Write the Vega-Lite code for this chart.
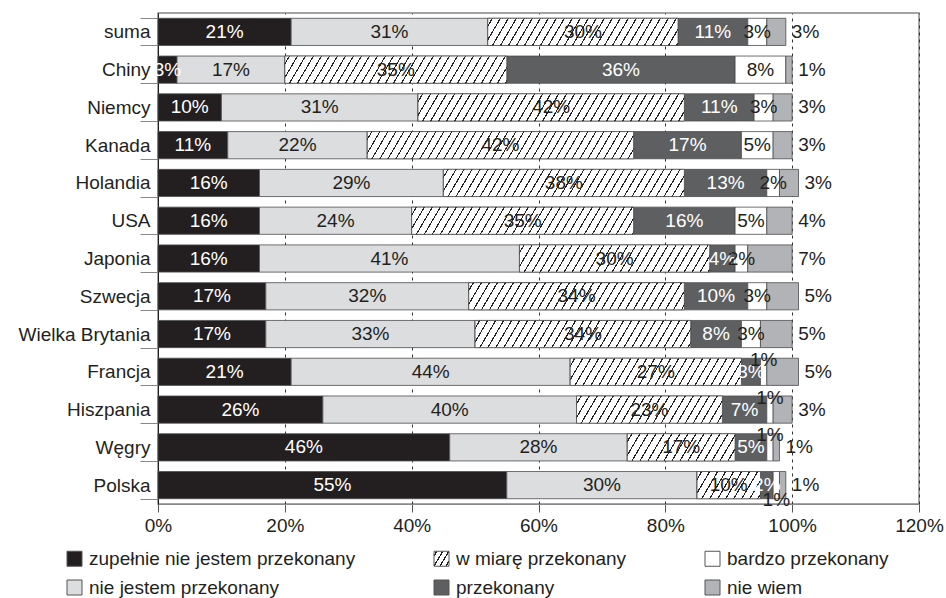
{
  "$schema": "https://vega.github.io/schema/vega-lite/v6.json",
  "width": 761,
  "height": 491,
  "autosize": "none",
  "padding": {"left": 158, "top": 13, "right": 27, "bottom": 94},
  "config": {
    "view": {"stroke": "#888", "strokeWidth": 1.5},
    "font": "Liberation Sans"
  },
  "params": [
    {"name": "lhatch", "value": [
      {"offset":0,"color":"#fff"},
      {"offset":0.09,"color":"#fff"},{"offset":0.09,"color":"#231f20"},{"offset":0.15,"color":"#231f20"},{"offset":0.15,"color":"#fff"},
      {"offset":0.34,"color":"#fff"},{"offset":0.34,"color":"#231f20"},{"offset":0.40,"color":"#231f20"},{"offset":0.40,"color":"#fff"},
      {"offset":0.59,"color":"#fff"},{"offset":0.59,"color":"#231f20"},{"offset":0.65,"color":"#231f20"},{"offset":0.65,"color":"#fff"},
      {"offset":0.84,"color":"#fff"},{"offset":0.84,"color":"#231f20"},{"offset":0.90,"color":"#231f20"},{"offset":0.90,"color":"#fff"},
      {"offset":1,"color":"#fff"}
    ]},
    {"name": "hatch", "value": [
      {"offset":0,"color":"#fff"},
      {"offset":0.0125,"color":"#fff"},{"offset":0.0125,"color":"#231f20"},{"offset":0.0165,"color":"#231f20"},{"offset":0.0165,"color":"#fff"},
      {"offset":0.0375,"color":"#fff"},{"offset":0.0375,"color":"#231f20"},{"offset":0.0415,"color":"#231f20"},{"offset":0.0415,"color":"#fff"},
      {"offset":0.0625,"color":"#fff"},{"offset":0.0625,"color":"#231f20"},{"offset":0.0665,"color":"#231f20"},{"offset":0.0665,"color":"#fff"},
      {"offset":0.0875,"color":"#fff"},{"offset":0.0875,"color":"#231f20"},{"offset":0.0915,"color":"#231f20"},{"offset":0.0915,"color":"#fff"},
      {"offset":0.1125,"color":"#fff"},{"offset":0.1125,"color":"#231f20"},{"offset":0.1165,"color":"#231f20"},{"offset":0.1165,"color":"#fff"},
      {"offset":0.1375,"color":"#fff"},{"offset":0.1375,"color":"#231f20"},{"offset":0.1415,"color":"#231f20"},{"offset":0.1415,"color":"#fff"},
      {"offset":0.1625,"color":"#fff"},{"offset":0.1625,"color":"#231f20"},{"offset":0.1665,"color":"#231f20"},{"offset":0.1665,"color":"#fff"},
      {"offset":0.1875,"color":"#fff"},{"offset":0.1875,"color":"#231f20"},{"offset":0.1915,"color":"#231f20"},{"offset":0.1915,"color":"#fff"},
      {"offset":0.2125,"color":"#fff"},{"offset":0.2125,"color":"#231f20"},{"offset":0.2165,"color":"#231f20"},{"offset":0.2165,"color":"#fff"},
      {"offset":0.2375,"color":"#fff"},{"offset":0.2375,"color":"#231f20"},{"offset":0.2415,"color":"#231f20"},{"offset":0.2415,"color":"#fff"},
      {"offset":0.2625,"color":"#fff"},{"offset":0.2625,"color":"#231f20"},{"offset":0.2665,"color":"#231f20"},{"offset":0.2665,"color":"#fff"},
      {"offset":0.2875,"color":"#fff"},{"offset":0.2875,"color":"#231f20"},{"offset":0.2915,"color":"#231f20"},{"offset":0.2915,"color":"#fff"},
      {"offset":0.3125,"color":"#fff"},{"offset":0.3125,"color":"#231f20"},{"offset":0.3165,"color":"#231f20"},{"offset":0.3165,"color":"#fff"},
      {"offset":0.3375,"color":"#fff"},{"offset":0.3375,"color":"#231f20"},{"offset":0.3415,"color":"#231f20"},{"offset":0.3415,"color":"#fff"},
      {"offset":0.3625,"color":"#fff"},{"offset":0.3625,"color":"#231f20"},{"offset":0.3665,"color":"#231f20"},{"offset":0.3665,"color":"#fff"},
      {"offset":0.3875,"color":"#fff"},{"offset":0.3875,"color":"#231f20"},{"offset":0.3915,"color":"#231f20"},{"offset":0.3915,"color":"#fff"},
      {"offset":0.4125,"color":"#fff"},{"offset":0.4125,"color":"#231f20"},{"offset":0.4165,"color":"#231f20"},{"offset":0.4165,"color":"#fff"},
      {"offset":0.4375,"color":"#fff"},{"offset":0.4375,"color":"#231f20"},{"offset":0.4415,"color":"#231f20"},{"offset":0.4415,"color":"#fff"},
      {"offset":0.4625,"color":"#fff"},{"offset":0.4625,"color":"#231f20"},{"offset":0.4665,"color":"#231f20"},{"offset":0.4665,"color":"#fff"},
      {"offset":0.4875,"color":"#fff"},{"offset":0.4875,"color":"#231f20"},{"offset":0.4915,"color":"#231f20"},{"offset":0.4915,"color":"#fff"},
      {"offset":0.5125,"color":"#fff"},{"offset":0.5125,"color":"#231f20"},{"offset":0.5165,"color":"#231f20"},{"offset":0.5165,"color":"#fff"},
      {"offset":0.5375,"color":"#fff"},{"offset":0.5375,"color":"#231f20"},{"offset":0.5415,"color":"#231f20"},{"offset":0.5415,"color":"#fff"},
      {"offset":0.5625,"color":"#fff"},{"offset":0.5625,"color":"#231f20"},{"offset":0.5665,"color":"#231f20"},{"offset":0.5665,"color":"#fff"},
      {"offset":0.5875,"color":"#fff"},{"offset":0.5875,"color":"#231f20"},{"offset":0.5915,"color":"#231f20"},{"offset":0.5915,"color":"#fff"},
      {"offset":0.6125,"color":"#fff"},{"offset":0.6125,"color":"#231f20"},{"offset":0.6165,"color":"#231f20"},{"offset":0.6165,"color":"#fff"},
      {"offset":0.6375,"color":"#fff"},{"offset":0.6375,"color":"#231f20"},{"offset":0.6415,"color":"#231f20"},{"offset":0.6415,"color":"#fff"},
      {"offset":0.6625,"color":"#fff"},{"offset":0.6625,"color":"#231f20"},{"offset":0.6665,"color":"#231f20"},{"offset":0.6665,"color":"#fff"},
      {"offset":0.6875,"color":"#fff"},{"offset":0.6875,"color":"#231f20"},{"offset":0.6915,"color":"#231f20"},{"offset":0.6915,"color":"#fff"},
      {"offset":0.7125,"color":"#fff"},{"offset":0.7125,"color":"#231f20"},{"offset":0.7165,"color":"#231f20"},{"offset":0.7165,"color":"#fff"},
      {"offset":0.7375,"color":"#fff"},{"offset":0.7375,"color":"#231f20"},{"offset":0.7415,"color":"#231f20"},{"offset":0.7415,"color":"#fff"},
      {"offset":0.7625,"color":"#fff"},{"offset":0.7625,"color":"#231f20"},{"offset":0.7665,"color":"#231f20"},{"offset":0.7665,"color":"#fff"},
      {"offset":0.7875,"color":"#fff"},{"offset":0.7875,"color":"#231f20"},{"offset":0.7915,"color":"#231f20"},{"offset":0.7915,"color":"#fff"},
      {"offset":0.8125,"color":"#fff"},{"offset":0.8125,"color":"#231f20"},{"offset":0.8165,"color":"#231f20"},{"offset":0.8165,"color":"#fff"},
      {"offset":0.8375,"color":"#fff"},{"offset":0.8375,"color":"#231f20"},{"offset":0.8415,"color":"#231f20"},{"offset":0.8415,"color":"#fff"},
      {"offset":0.8625,"color":"#fff"},{"offset":0.8625,"color":"#231f20"},{"offset":0.8665,"color":"#231f20"},{"offset":0.8665,"color":"#fff"},
      {"offset":0.8875,"color":"#fff"},{"offset":0.8875,"color":"#231f20"},{"offset":0.8915,"color":"#231f20"},{"offset":0.8915,"color":"#fff"},
      {"offset":0.9125,"color":"#fff"},{"offset":0.9125,"color":"#231f20"},{"offset":0.9165,"color":"#231f20"},{"offset":0.9165,"color":"#fff"},
      {"offset":0.9375,"color":"#fff"},{"offset":0.9375,"color":"#231f20"},{"offset":0.9415,"color":"#231f20"},{"offset":0.9415,"color":"#fff"},
      {"offset":0.9625,"color":"#fff"},{"offset":0.9625,"color":"#231f20"},{"offset":0.9665,"color":"#231f20"},{"offset":0.9665,"color":"#fff"},
      {"offset":0.9875,"color":"#fff"},{"offset":0.9875,"color":"#231f20"},{"offset":0.9915,"color":"#231f20"},{"offset":0.9915,"color":"#fff"},
      {"offset":1,"color":"#fff"}
    ]}
  ],
  "data": {"values": [
    {"country":"suma","answer":"zupełnie nie jestem przekonany","pct":21},
    {"country":"suma","answer":"nie jestem przekonany","pct":31},
    {"country":"suma","answer":"w miarę przekonany","pct":30},
    {"country":"suma","answer":"przekonany","pct":11},
    {"country":"suma","answer":"bardzo przekonany","pct":3},
    {"country":"suma","answer":"nie wiem","pct":3},
    {"country":"Chiny","answer":"zupełnie nie jestem przekonany","pct":3},
    {"country":"Chiny","answer":"nie jestem przekonany","pct":17},
    {"country":"Chiny","answer":"w miarę przekonany","pct":35},
    {"country":"Chiny","answer":"przekonany","pct":36},
    {"country":"Chiny","answer":"bardzo przekonany","pct":8},
    {"country":"Chiny","answer":"nie wiem","pct":1},
    {"country":"Niemcy","answer":"zupełnie nie jestem przekonany","pct":10},
    {"country":"Niemcy","answer":"nie jestem przekonany","pct":31},
    {"country":"Niemcy","answer":"w miarę przekonany","pct":42},
    {"country":"Niemcy","answer":"przekonany","pct":11},
    {"country":"Niemcy","answer":"bardzo przekonany","pct":3},
    {"country":"Niemcy","answer":"nie wiem","pct":3},
    {"country":"Kanada","answer":"zupełnie nie jestem przekonany","pct":11},
    {"country":"Kanada","answer":"nie jestem przekonany","pct":22},
    {"country":"Kanada","answer":"w miarę przekonany","pct":42},
    {"country":"Kanada","answer":"przekonany","pct":17},
    {"country":"Kanada","answer":"bardzo przekonany","pct":5},
    {"country":"Kanada","answer":"nie wiem","pct":3},
    {"country":"Holandia","answer":"zupełnie nie jestem przekonany","pct":16},
    {"country":"Holandia","answer":"nie jestem przekonany","pct":29},
    {"country":"Holandia","answer":"w miarę przekonany","pct":38},
    {"country":"Holandia","answer":"przekonany","pct":13},
    {"country":"Holandia","answer":"bardzo przekonany","pct":2},
    {"country":"Holandia","answer":"nie wiem","pct":3},
    {"country":"USA","answer":"zupełnie nie jestem przekonany","pct":16},
    {"country":"USA","answer":"nie jestem przekonany","pct":24},
    {"country":"USA","answer":"w miarę przekonany","pct":35},
    {"country":"USA","answer":"przekonany","pct":16},
    {"country":"USA","answer":"bardzo przekonany","pct":5},
    {"country":"USA","answer":"nie wiem","pct":4},
    {"country":"Japonia","answer":"zupełnie nie jestem przekonany","pct":16},
    {"country":"Japonia","answer":"nie jestem przekonany","pct":41},
    {"country":"Japonia","answer":"w miarę przekonany","pct":30},
    {"country":"Japonia","answer":"przekonany","pct":4},
    {"country":"Japonia","answer":"bardzo przekonany","pct":2},
    {"country":"Japonia","answer":"nie wiem","pct":7},
    {"country":"Szwecja","answer":"zupełnie nie jestem przekonany","pct":17},
    {"country":"Szwecja","answer":"nie jestem przekonany","pct":32},
    {"country":"Szwecja","answer":"w miarę przekonany","pct":34},
    {"country":"Szwecja","answer":"przekonany","pct":10},
    {"country":"Szwecja","answer":"bardzo przekonany","pct":3},
    {"country":"Szwecja","answer":"nie wiem","pct":5},
    {"country":"Wielka Brytania","answer":"zupełnie nie jestem przekonany","pct":17},
    {"country":"Wielka Brytania","answer":"nie jestem przekonany","pct":33},
    {"country":"Wielka Brytania","answer":"w miarę przekonany","pct":34},
    {"country":"Wielka Brytania","answer":"przekonany","pct":8},
    {"country":"Wielka Brytania","answer":"bardzo przekonany","pct":3},
    {"country":"Wielka Brytania","answer":"nie wiem","pct":5},
    {"country":"Francja","answer":"zupełnie nie jestem przekonany","pct":21},
    {"country":"Francja","answer":"nie jestem przekonany","pct":44},
    {"country":"Francja","answer":"w miarę przekonany","pct":27},
    {"country":"Francja","answer":"przekonany","pct":3},
    {"country":"Francja","answer":"bardzo przekonany","pct":1},
    {"country":"Francja","answer":"nie wiem","pct":5},
    {"country":"Hiszpania","answer":"zupełnie nie jestem przekonany","pct":26},
    {"country":"Hiszpania","answer":"nie jestem przekonany","pct":40},
    {"country":"Hiszpania","answer":"w miarę przekonany","pct":23},
    {"country":"Hiszpania","answer":"przekonany","pct":7},
    {"country":"Hiszpania","answer":"bardzo przekonany","pct":1},
    {"country":"Hiszpania","answer":"nie wiem","pct":3},
    {"country":"Węgry","answer":"zupełnie nie jestem przekonany","pct":46},
    {"country":"Węgry","answer":"nie jestem przekonany","pct":28},
    {"country":"Węgry","answer":"w miarę przekonany","pct":17},
    {"country":"Węgry","answer":"przekonany","pct":5},
    {"country":"Węgry","answer":"bardzo przekonany","pct":1},
    {"country":"Węgry","answer":"nie wiem","pct":1},
    {"country":"Polska","answer":"zupełnie nie jestem przekonany","pct":55},
    {"country":"Polska","answer":"nie jestem przekonany","pct":30},
    {"country":"Polska","answer":"w miarę przekonany","pct":10},
    {"country":"Polska","answer":"przekonany","pct":2},
    {"country":"Polska","answer":"bardzo przekonany","pct":1},
    {"country":"Polska","answer":"nie wiem","pct":1}
  ]},
  "transform": [
    {"calculate": "indexof(['zupełnie nie jestem przekonany','nie jestem przekonany','w miarę przekonany','przekonany','bardzo przekonany','nie wiem'], datum.answer)", "as": "k"},
    {"stack": "pct", "groupby": ["country"], "sort": [{"field": "k", "order": "ascending"}], "as": ["v0", "v1"]},
    {"calculate": "(datum.v0 + datum.v1) / 2", "as": "mid"},
    {"calculate": "datum.pct + '%'", "as": "lbl"}
  ],
  "encoding": {
    "y": {
      "field": "country", "type": "nominal",
      "sort": ["suma","Chiny","Niemcy","Kanada","Holandia","USA","Japonia","Szwecja","Wielka Brytania","Francja","Hiszpania","Węgry","Polska"],
      "scale": {"paddingInner": 0.28, "paddingOuter": 0.14},
      "axis": {
        "title": null, "domainColor": "#231f20", "domainWidth": 1,
        "tickColor": "#888", "tickSize": 18, "tickBand": "extent", "tickWidth": 1,
        "labelPadding": -10, "labelFontSize": 19, "labelFont": "Liberation Sans", "labelColor": "#231f20",
        "grid": false
      }
    }
  },
  "layer": [
    {
      "mark": {"type": "bar", "stroke": "#4d4d4f", "strokeWidth": 0.8},
      "encoding": {
        "x": {
          "field": "v0", "type": "quantitative", "title": null,
          "scale": {"domain": [0, 120], "nice": false, "zero": true},
          "axis": {
            "values": [0, 20, 40, 60, 80, 100, 120],
            "labelExpr": "datum.value + '%'",
            "grid": true, "gridDash": [3, 4], "gridColor": "#333", "gridWidth": 1,
            "domainColor": "#888", "domainWidth": 1.2,
            "tickColor": "#555", "tickSize": 8,
            "labelFontSize": 19, "labelFont": "Liberation Sans", "labelColor": "#231f20",
            "labelPadding": 4, "labelFlush": false, "labelOverlap": false
          }
        },
        "x2": {"field": "v1"},
        "color": {
          "field": "answer", "type": "nominal",
          "scale": {
            "domain": ["zupełnie nie jestem przekonany", "nie jestem przekonany", "w miarę przekonany", "przekonany", "bardzo przekonany", "nie wiem"],
            "range": ["#231f20", "#dcdddf", {"expr": "{gradient: 'linear', x1: 0, y1: 0, x2: 1.176, y2: 0.706, stops: lhatch}"}, "#5e5f61", "#ffffff", "#b1b3b6"]
          },
          "legend": {
            "title": null, "orient": "none", "legendX": -93, "legendY": 536,
            "columns": 3, "columnPadding": 76, "rowPadding": 9, "padding": 0,
            "symbolType": "square", "symbolSize": 225, "symbolStrokeColor": "#555", "symbolStrokeWidth": 1,
            "labelFontSize": 19, "labelFont": "Liberation Sans", "labelColor": "#231f20",
            "labelOffset": 5, "labelLimit": 400,
            "encode": {
              "symbols": {
                "update": {
                  "stroke": {"value": "#555"},
                  "strokeWidth": {"value": 1},
                  "opacity": {"value": 1}
                }
              }
            }
          }
        }
      }
    },
    {
      "transform": [{"filter": "datum.answer == 'w miarę przekonany'"}],
      "mark": {
        "type": "bar", "stroke": "#4d4d4f", "strokeWidth": 0.8,
        "fill": {"expr": "{gradient: 'linear', x1: 0, y1: 0, x2: ((datum.v1-datum.v0)*width/38400)/(pow((datum.v1-datum.v0)*width/38400,2)+pow(bandwidth('y')/544,2)), y2: (bandwidth('y')/544)/(pow((datum.v1-datum.v0)*width/38400,2)+pow(bandwidth('y')/544,2)), stops: hatch}"}
      },
      "encoding": {
        "x": {"field": "v0", "type": "quantitative", "title": null},
        "x2": {"field": "v1"}
      }
    },
    {
      "transform": [{"filter": "datum.answer == 'zupełnie nie jestem przekonany' || datum.answer == 'przekonany'"}],
      "mark": {"type": "text", "font": "Liberation Sans", "fontSize": 19, "fill": "#ffffff", "baseline": "middle", "align": "center"},
      "encoding": {
        "x": {"field": "mid", "type": "quantitative", "title": null},
        "text": {"field": "lbl"}
      }
    },
    {
      "transform": [{"filter": "datum.answer == 'nie jestem przekonany' || datum.answer == 'w miarę przekonany' || (datum.answer == 'bardzo przekonany' && datum.pct > 1)"}],
      "mark": {"type": "text", "font": "Liberation Sans", "fontSize": 19, "fill": "#231f20", "baseline": "middle", "align": "center"},
      "encoding": {
        "x": {"field": "mid", "type": "quantitative", "title": null},
        "text": {"field": "lbl"}
      }
    },
    {
      "transform": [{"filter": "datum.answer == 'bardzo przekonany' && datum.pct <= 1 && datum.country != 'Polska'"}],
      "mark": {"type": "text", "font": "Liberation Sans", "fontSize": 19, "fill": "#231f20", "baseline": "middle", "align": "center", "dy": -12},
      "encoding": {
        "x": {"field": "mid", "type": "quantitative", "title": null},
        "text": {"field": "lbl"}
      }
    },
    {
      "transform": [{"filter": "datum.answer == 'bardzo przekonany' && datum.country == 'Polska'"}],
      "mark": {"type": "text", "font": "Liberation Sans", "fontSize": 19, "fill": "#231f20", "baseline": "middle", "align": "center", "dy": 15},
      "encoding": {
        "x": {"field": "mid", "type": "quantitative", "title": null},
        "text": {"field": "lbl"}
      }
    },
    {
      "transform": [{"filter": "datum.answer == 'nie wiem'"}],
      "mark": {"type": "text", "font": "Liberation Sans", "fontSize": 19, "fill": "#231f20", "baseline": "middle", "align": "left", "dx": 6},
      "encoding": {
        "x": {"field": "v1", "type": "quantitative", "title": null},
        "text": {"field": "lbl"}
      }
    }
  ]
}
